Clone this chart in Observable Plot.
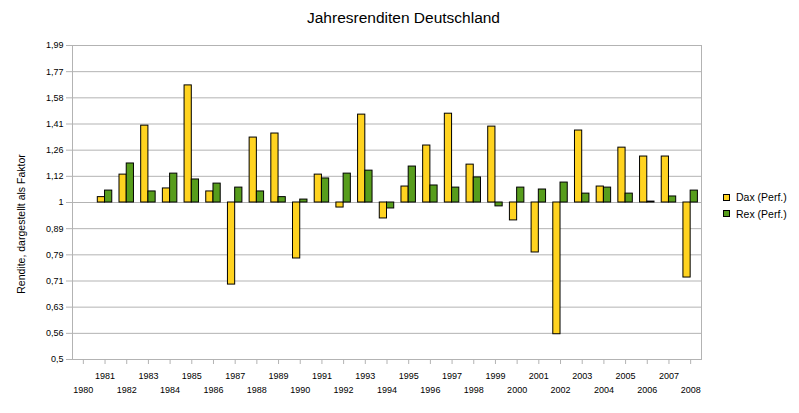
<!DOCTYPE html>
<html><head><meta charset="utf-8">
<script src="https://cdn.jsdelivr.net/npm/d3@7"></script>
<script src="https://cdn.jsdelivr.net/npm/@observablehq/plot@0.6"></script>
<style>
body{margin:0;background:#fff;font-family:"Liberation Sans",Arial,sans-serif;}
#wrap{position:relative;width:799px;height:413px;background:#fff;}
#title{position:absolute;left:4px;width:799px;top:9px;text-align:center;font-size:15.5px;line-height:18px;color:#000;}
#ytitle{position:absolute;left:21px;top:224px;transform:translate(-50%,-50%) rotate(-90deg);white-space:nowrap;font-size:10.5px;line-height:12px;color:#000;}
#legend{position:absolute;left:723px;top:189px;font-size:10.5px;color:#000;}
.li{display:flex;align-items:center;height:16.5px;}
.sw{width:5px;height:5px;border:1px solid #000;margin-right:6px;}
</style></head><body>
<div id="wrap"><div id="chart"></div><div id="title">Jahresrenditen Deutschland</div><div id="ytitle"></div><div id="legend"></div></div>
<script>
const years = [1980,1981,1982,1983,1984,1985,1986,1987,1988,1989,1990,1991,1992,1993,1994,1995,1996,1997,1998,1999,2000,2001,2002,2003,2004,2005,2006,2007,2008];
const dax = [null,1.024,1.131,1.404,1.064,1.677,1.05,0.696,1.332,1.356,0.781,1.131,0.978,1.474,0.932,1.073,1.286,1.48,1.182,1.398,0.924,0.802,0.559,1.374,1.073,1.274,1.225,1.225,0.718];
const rex = [null,1.054,1.188,1.05,1.136,1.107,1.087,1.068,1.05,1.024,1.013,1.112,1.136,1.151,0.974,1.172,1.078,1.068,1.117,0.983,1.068,1.059,1.092,1.04,1.068,1.04,1.004,1.027,1.054];
const seriesNames = ["Dax (Perf.)","Rex (Perf.)"];
const seriesColors = ["#ffd320","#579d1c"];
const yTickValues = [0.5,0.5612,0.63,0.7071,0.7937,0.8909,1,1.1225,1.2599,1.4142,1.5874,1.7818,2];
const yTickLabels = ["0,5","0,56","0,63","0,71","0,79","0,89","1","1,12","1,26","1,41","1,58","1,77","1,99"];
const yTitle = "Rendite, dargestellt als Faktor";

const daxRows = years.map((y,i)=>({year:String(y), value:dax[i]})).filter(d=>d.value!=null);
const rexRows = years.map((y,i)=>({year:String(y), value:rex[i]})).filter(d=>d.value!=null);

const W=799,H=413,mL=72,mR=98,mT=45,mB=54;
const step=(W-mL-mR)/years.length;
const grid="#b3b3b3";
const oddYears=years.filter(y=>y%2===1).map(String);
const evenYears=years.filter(y=>y%2===0).map(String);

const chart = Plot.plot({
  width:W,height:H,marginLeft:mL,marginRight:mR,marginTop:mT,marginBottom:mB,
  style:{fontFamily:"'Liberation Sans',Arial,sans-serif",fontSize:"9px",color:"#000",background:"#fff",overflow:"visible"},
  x:{type:"band",domain:years.map(String),padding:0,round:false},
  y:{type:"log",domain:[0.5,2]},
  marks:[
    Plot.gridY(yTickValues,{stroke:grid,strokeOpacity:1}),
    Plot.frame({stroke:grid}),
    Plot.barY(daxRows,{x:"year",y1:d=>1,y2:"value",fill:seriesColors[0],stroke:"#000",strokeWidth:1,insetLeft:step/6,insetRight:step/2}),
    Plot.barY(rexRows,{x:"year",y1:d=>1,y2:"value",fill:seriesColors[1],stroke:"#000",strokeWidth:1,insetLeft:step/2,insetRight:step/6}),
    Plot.axisY({ticks:yTickValues,tickFormat:d=>yTickLabels[yTickValues.indexOf(d)],tickSize:6,tickPadding:3,stroke:grid,strokeOpacity:1,label:null}),
    Plot.axisX({tickSize:5,tickFormat:()=>"",stroke:grid,strokeOpacity:1,label:null}),
    Plot.axisX({ticks:oddYears,tickSize:0,tickPadding:13,label:null}),
    Plot.axisX({ticks:evenYears,tickSize:0,tickPadding:27,label:null})
  ]
});
document.getElementById("chart").appendChild(chart);
document.getElementById("ytitle").textContent=yTitle;
const lg=document.getElementById("legend");
seriesNames.forEach((n,i)=>{
  const r=document.createElement("div");r.className="li";
  const s=document.createElement("div");s.className="sw";s.style.background=seriesColors[i];
  const t=document.createElement("span");t.textContent=n;
  r.appendChild(s);r.appendChild(t);lg.appendChild(r);
});
</script>
</body></html>
